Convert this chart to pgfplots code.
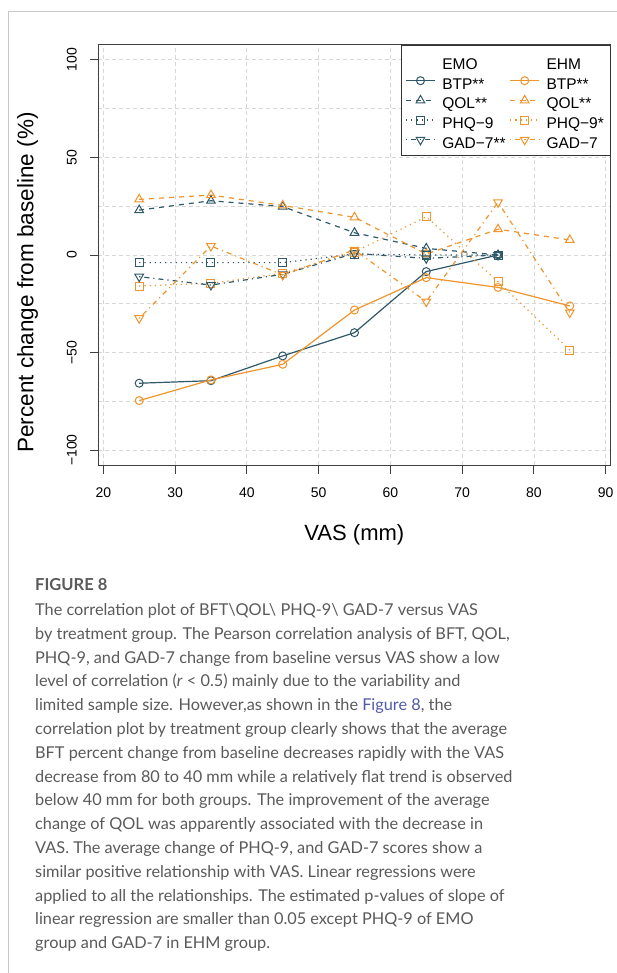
\documentclass[border=0pt]{standalone}
\usepackage{pgfplots}
\pgfplotsset{compat=1.18}
\usepackage{fontspec}
\setmainfont{Liberation Sans}
\newfontfamily\capfont{Lato}
\definecolor{emo}{RGB}{47,88,105}
\definecolor{ehm}{RGB}{240,148,45}
\definecolor{gridc}{RGB}{215,215,215}
\definecolor{capgray}{RGB}{90,90,90}
\definecolor{linkblue}{RGB}{80,90,170}
\definecolor{framec}{RGB}{200,200,200}
\pgfplotsset{
  emoS/.style={color=emo, line width=1.2pt},
  ehmS/.style={color=ehm, line width=1.2pt},
  btp/.style={solid, mark=o, mark size=4pt, mark options={solid, line width=1pt}},
  qol/.style={dash pattern=on 5pt off 5pt, mark=triangle, mark size=5pt, mark options={solid, line width=1pt}},
  phq/.style={dash pattern=on 1.2pt off 4pt, mark=square, mark size=4pt, mark options={solid, line width=1pt}},
  gad/.style={dash pattern=on 1.2pt off 4pt on 5pt off 4pt, mark=triangle, mark size=5pt, mark options={solid, rotate=180, line width=1pt}},
}
\begin{document}
\begin{tikzpicture}
\useasboundingbox (0pt,0pt) rectangle (617pt,-973pt);
\fill[white] (0pt,0pt) rectangle (617pt,-973pt);
\draw[framec, line width=0.8pt] (8.5pt,-973pt) -- (8.5pt,-11.7pt) -- (617pt,-11.7pt);
\begin{axis}[
  at={(98pt,-465pt)}, anchor=south west,
  scale only axis, width=512.7pt, height=420pt,
  xmin=19.26, xmax=90.7, ymin=-107.6, ymax=107.6,
  xtick={20,30,...,90},
  xticklabels={20,30,40,50,60,70,80,90},
  ytick={-100,-50,0,50,100},
  yticklabels={−100,−50,0,50,100},
  minor ytick={-75,-25,25,75},
  grid=both,
  major grid style={gridc, dash pattern=on 4pt off 3pt, line width=0.8pt},
  minor grid style={gridc, dash pattern=on 4pt off 3pt, line width=0.8pt},
  minor tick length=0pt,
  tick align=outside,
  major tick length=8.5pt,
  xtick pos=bottom, ytick pos=left,
  tick style={black!75, line width=0.9pt},
  axis line style={black!75, line width=1pt},
  ticklabel style={font=\fontsize{14}{16}\selectfont},
  xticklabel style={yshift=-11pt},
  yticklabel style={rotate=90, anchor=south, inner sep=0pt, yshift=12.5pt},
  xlabel={VAS (mm)},
  xlabel style={font=\fontsize{22}{26}\selectfont, at={(axis description cs:0.5,0)}, anchor=base, yshift=-75pt},
  ylabel={Percent change from baseline (\%)},
  ylabel style={font=\fontsize{22.5}{26}\selectfont, at={(axis description cs:0,0.4345)}, rotate=0, anchor=base, yshift=64.5pt},
  legend columns=2,
  legend cell align=left,
  legend style={at={(1,1)}, anchor=north east, draw=black!80, line width=1pt, fill=white,
    font=\fontsize{15.5}{18}\selectfont, inner xsep=3.7pt, inner ysep=7pt,
    /tikz/every odd column/.append style={column sep=6.7pt},
    /tikz/every even column/.append style={column sep=4pt},
    nodes={inner sep=0pt, text height=17pt, text depth=0pt},
    row sep=2.7pt},
  legend image code/.code={\draw[mark repeat=2, mark phase=2] plot coordinates {(0pt,0pt) (14.5pt,0pt) (29pt,0pt)};},
  clip=false,
]
\addlegendimage{legend image code/.code={}}\addlegendentry{EMO}
\addlegendimage{legend image code/.code={}}\addlegendentry{\makebox[60pt][l]{EHM}}
\addplot[emoS, btp] coordinates {(25,-65.7) (35,-64.4) (45,-51.7) (55,-39.8) (65,-8.5) (75,0)};
\addlegendentry{BTP**}
\addplot[ehmS, btp] coordinates {(25,-74.6) (35,-64) (45,-56) (55,-28.2) (65,-11.6) (75,-16.6) (85,-26.1)};
\addlegendentry{BTP**}
\addplot[emoS, qol] coordinates {(25,23) (35,27.8) (45,24.8) (55,11.4) (65,3.4) (75,0)};
\addlegendentry{QOL**}
\addplot[ehmS, qol] coordinates {(25,28.5) (35,30.7) (45,25.4) (55,19.3) (65,0.5) (75,13.2) (85,7.7)};
\addlegendentry{QOL**}
\addplot[emoS, phq] coordinates {(25,-3.9) (35,-3.9) (45,-3.9) (55,0.5) (65,0) (75,0)};
\addlegendentry{PHQ−9}
\addplot[ehmS, phq] coordinates {(25,-15.9) (35,-14.5) (45,-9.4) (55,1.5) (65,19.6) (75,-13.7) (85,-48.7)};
\addlegendentry{PHQ−9*}
\addplot[emoS, gad] coordinates {(25,-11.1) (35,-15.4) (45,-9.9) (55,0.8) (65,-1.7) (75,0)};
\addlegendentry{GAD−7**}
\addplot[ehmS, gad] coordinates {(25,-32.4) (35,4.6) (45,-10.2) (55,2.6) (65,-23.9) (75,27) (85,-29.5)};
\addlegendentry{GAD−7}
\end{axis}
\begin{scope}[capgray]
\node[anchor=base west, inner sep=0pt, font=\capfont\bfseries\fontsize{16.5}{20}\selectfont] at (35pt,-590pt) {FIGURE 8};
\foreach \n/\t in {
0/{The correlation plot of BFT\textbackslash QOL\textbackslash{} PHQ-9\textbackslash{} GAD-7 versus VAS},
1/{by treatment group. The Pearson correlation analysis of BFT, QOL,},
2/{PHQ-9, and GAD-7 change from baseline versus VAS show a low},
3/{level of correlation (\textit{r} < 0.5) mainly due to the variability and},
4/{limited sample size. However,as shown in the \textcolor{linkblue}{Figure 8}, the},
5/{correlation plot by treatment group clearly shows that the average},
6/{BFT percent change from baseline decreases rapidly with the VAS},
7/{decrease from 80 to 40 mm while a relatively flat trend is observed},
8/{below 40 mm for both groups. The improvement of the average},
9/{change of QOL was apparently associated with the decrease in},
10/{VAS. The average change of PHQ-9, and GAD-7 scores show a},
11/{similar positive relationship with VAS. Linear regressions were},
12/{applied to all the relationships. The estimated p-values of slope of},
13/{linear regression are smaller than 0.05 except PHQ-9 of EMO},
14/{group and GAD-7 in EHM group.}}
{\node[anchor=base west, inner sep=0pt, font=\capfont\fontsize{16.3}{20}\selectfont] at (35pt,{-615.5pt-\n*23.8pt}) {\t};}
\end{scope}
\end{tikzpicture}
\end{document}
